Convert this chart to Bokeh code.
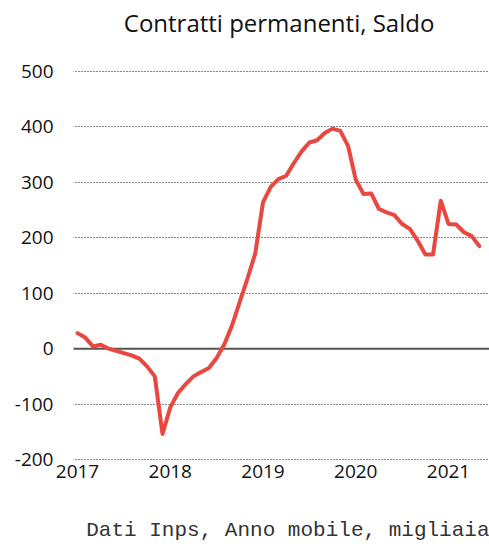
from bokeh.plotting import figure
from bokeh.models import Span, Label, FixedTicker, Range1d, BoxAnnotation
from bokeh.embed import file_html
from bokeh.resources import INLINE

# Monthly rolling-year balance of permanent contracts (thousands), Jan 2017 - May 2021
start_year = 2017
values = [28, 20, 4, 7, 0, -4, -8, -12, -18, -32, -50, -154,
          -106, -80, -64, -50, -42, -35, -17, 8, 42, 85, 127, 172,
          264, 292, 306, 312, 335, 356, 372, 376, 389, 397, 393, 366,
          305, 279, 280, 252, 246, 241, 225, 216, 195, 170, 170, 267,
          225, 224, 210, 203, 185]
x_ticks = [2017, 2018, 2019, 2020, 2021]
x_tick_labels = ["2017", "2018", "2019", "2020", "2021"]
y_ticks = [-200, -100, 0, 100, 200, 300, 400, 500]
y_tick_labels = ["-200", "-100", "0", "100", "200", "300", "400", "500"]
title_text = "Contratti permanenti, Saldo"
source_text = "Dati Inps, Anno mobile, migliaia"

xs = [start_year + i / 12 for i in range(len(values))]

# frame spans the whole area right of the y labels; title and note live inside it
X0, X1 = 2016.752, 2021.442
Y0, Y1 = -358.8, 628.2
GRID_START = 2016.957

font = "Open Sans"

p = figure(width=489, height=547, output_backend="svg", toolbar_location=None,
           x_range=Range1d(X0, X1), y_range=Range1d(Y0, Y1),
           min_border_left=54, min_border_right=0, min_border_top=0, min_border_bottom=0)
p.outline_line_color = None
p.background_fill_color = "white"
p.border_fill_color = "white"

p.xgrid.grid_line_color = None
p.ygrid.ticker = FixedTicker(ticks=y_ticks)
p.ygrid.grid_line_color = "#111111"
p.ygrid.grid_line_dash = "1 2"
p.ygrid.grid_line_width = 1

for ax in (p.xaxis[0], p.yaxis[0]):
    ax.axis_line_color = None
    ax.major_tick_line_color = None
    ax.minor_tick_line_color = None
    ax.major_tick_out = 0
    ax.major_label_text_font = font
    ax.major_label_text_font_size = "19px"
    ax.major_label_text_color = "#111111"

p.xaxis.ticker = FixedTicker(ticks=x_ticks)
p.xaxis.major_label_overrides = {t: l for t, l in zip(x_ticks, x_tick_labels)}
p.xaxis.major_label_standoff = 6
p.xaxis.fixed_location = y_ticks[0]
p.yaxis.ticker = FixedTicker(ticks=y_ticks)
p.yaxis.major_label_overrides = {t: l for t, l in zip(y_ticks, y_tick_labels)}
p.yaxis.major_label_standoff = 1

p.add_layout(Span(location=0, dimension="width", line_color="#555555", line_width=2,
                  level="underlay"))
# blank margin between the y labels and where the grid lines begin
p.add_layout(BoxAnnotation(right=GRID_START, fill_color="white", fill_alpha=1.0,
                           line_color=None, level="underlay"))

p.line(xs, values, line_color="#e8483f", line_width=4, line_join="round", line_cap="round")

p.add_layout(Label(x=2019.173, y=588.5, text=title_text, text_font=font,
                   text_font_size="24px", text_align="center", text_baseline="middle",
                   text_color="#111111"))
p.add_layout(Label(x=X1, y=-328.5, text=source_text, text_font="Liberation Mono",
                   text_font_size="21px", text_align="right", text_baseline="middle",
                   text_color="#333333"))

open("out.html", "w").write(file_html(p, INLINE))
